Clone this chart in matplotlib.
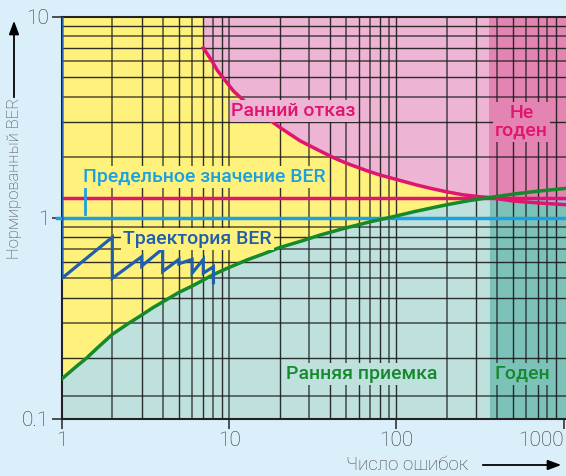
import numpy as np
import matplotlib
matplotlib.use('Agg')
import matplotlib.pyplot as plt
from matplotlib.patches import FancyArrowPatch

plt.rcParams['font.family'] = ['Roboto', 'DejaVu Sans']

# Curves (number of errors, normalised BER)
fail_x = [7, 7.9, 8.5, 10.6, 13, 16.8, 20, 26.6, 33, 42, 50, 67, 80, 106, 130, 160,
          200, 250, 320, 360, 500, 700, 1040]
fail_y = [7.0, 6.0, 5.4, 4.27, 3.65, 3.14, 2.82, 2.41, 2.2, 1.99, 1.87, 1.71, 1.63, 1.53,
          1.46, 1.40, 1.345, 1.30, 1.27, 1.26, 1.21, 1.185, 1.16]

accept_x = [1, 1.2, 1.4, 1.6, 2, 2.5, 3, 3.5, 4.2, 5, 6, 6.7, 8, 10, 13, 16, 20, 27, 35,
            50, 70, 90, 130, 200, 270, 360, 500, 700, 1040]
accept_y = [0.158, 0.18, 0.2, 0.222, 0.263, 0.298, 0.328, 0.357, 0.39, 0.425, 0.457, 0.48,
            0.52, 0.566, 0.62, 0.66, 0.71, 0.765, 0.82, 0.89, 0.955, 1.0, 1.075, 1.16,
            1.215, 1.26, 1.31, 1.355, 1.40]

traj_x = [1, 1, 2, 2, 3, 3, 4, 4, 5, 5, 6, 6, 7, 7, 8.05, 8.05]
traj_y = [10, 0.5, 0.8, 0.5, 0.64, 0.575, 0.70, 0.54, 0.62, 0.59, 0.62, 0.53, 0.62, 0.53,
          0.57, 0.475]

ber_limit = 1.26
ber_nominal = 1.0
x_cross = 360

x_grid = [2, 3, 4, 5, 6, 7, 8, 9, 10, 20, 30, 40, 50, 60, 70, 80, 90, 100,
          200, 300, 400, 500, 600, 700, 800, 900]
y_grid = [0.13, 0.2, 0.3, 0.4, 0.5, 0.6, 0.7, 0.8, 0.9, 1, 2, 3, 4, 5, 6, 7, 8, 9]

x_ticks = [1, 10, 100, 1000]
x_tick_labels = ['1', '10', '100', '1000']
y_ticks = [0.1, 1, 10]
y_tick_labels = ['0.1', '1', '10']

# colours
bg = '#dbeffb'
yellow = '#fff27c'
pink = '#edb5d3'
pink_dark = '#e384b2'
teal = '#bfe1dd'
teal_dark = '#7cc2b9'
lavender = '#97b9e1'
red = '#e0156e'
green = '#148a2c'
light_blue = '#1ba0e0'
dark_blue = '#1f5fae'

fig = plt.figure(figsize=(5.66, 4.76), dpi=100, facecolor=bg)
ax = fig.add_axes([62 / 566, 57.3 / 476, 504 / 566, 402 / 476])
ax.set_xscale('log')
ax.set_yscale('log')
ax.set_xlim(1, 1034)
ax.set_ylim(0.1, 10)
ax.set_facecolor(yellow)

fx = np.array(fail_x)
fy = np.array(fail_y)
gx = np.array(accept_x)
gy = np.array(accept_y)

# light regions
ax.fill_between(fx, fy, 10, color=pink, lw=0, zorder=1)
ax.fill_between(gx, 0.1, gy, color=teal, lw=0, zorder=1)

# dark regions right of the crossing
m = fx >= x_cross
ax.fill_between(fx[m], 0.1, fy[m], color=teal_dark, lw=0, zorder=1.1)
ax.fill_between(fx[m], fy[m], ber_limit, color=lavender, lw=0, zorder=1.1)
ax.fill_between(fx[m], ber_limit, 10, color=pink_dark, lw=0, zorder=1.1)

# grid
for i, xg in enumerate(x_grid):
    ax.axvline(xg, color='#1a1a1a', lw=1.0 if i % 2 else 1.4, alpha=0.9 if i % 2 else 0.6, zorder=2)
for i, yg in enumerate(y_grid):
    ax.axhline(yg, color='#1a1a1a', lw=1.0 if i % 2 else 1.4, alpha=0.9 if i % 2 else 0.6, zorder=2)

# lines
ax.plot([0.93, 1034], [ber_nominal, ber_nominal], color=light_blue, lw=2.5, zorder=4, clip_on=False)
ax.plot([1, 1034], [ber_limit, ber_limit], color=red, lw=2.5, zorder=4)
ax.plot(fx, fy, color=red, lw=2.5, zorder=4)
ax.plot(gx, gy, color=green, lw=2.5, zorder=4)
ax.plot(traj_x, traj_y, color=dark_blue, lw=2.3, zorder=4.5, solid_joinstyle='miter')
ax.plot([1.37, 1.37], [1.04, 1.42], color=light_blue, lw=2, zorder=4)


# labels inside
def label(x, y, s, c, fc, ha='center', **kw):
    ax.text(x, y, s, color=c, fontsize=14, fontweight='medium', ha=ha, va='center', zorder=5,
            bbox=dict(boxstyle='square,pad=0.1', fc=fc, ec='none'), **kw)


label(1.34, 1.59, 'Предельное значение BER', light_blue, yellow, ha='left')
label(24.3, 3.4, 'Ранний отказ', red, pink)
label(560, 3.0, 'Не\nгоден', red, pink_dark, linespacing=1.0)
label(2.32, 0.78, 'Траектория BER', dark_blue, yellow, ha='left')
label(62, 0.167, 'Ранняя приемка', green, teal)
label(568, 0.167, 'Годен', green, teal_dark)

# axes styling
ax.set_xticks(x_ticks)
ax.set_xticklabels(x_tick_labels)
ax.set_yticks(y_ticks)
ax.set_yticklabels(y_tick_labels)
ax.minorticks_off()
ax.tick_params(length=7, width=1.2, labelsize=15, colors='#333333', pad=2)
for t in ax.get_xticklabels():
    t.set_fontweight('light')
for t in ax.get_yticklabels():
    t.set_fontweight('light')
ax.get_xticklabels()[-1].set_ha('right')
ax.spines['right'].set_visible(False)
for s in ['top', 'bottom', 'left']:
    ax.spines[s].set_color('#222222')
    ax.spines[s].set_linewidth(1.5)

fig.text(15 / 566, 1 - 178 / 476, 'Нормированный BER', rotation=90, ha='center', va='center',
         fontsize=12, fontweight='light', color='#444444')
fig.text(407 / 566, 1 - 465 / 476, 'Число ошибок', ha='center', va='center',
         fontsize=13.5, fontweight='light', color='#444444')
fig.patches.append(FancyArrowPatch(
    (14 / 566, 1 - 100 / 476), (14 / 566, 1 - 18 / 476), transform=fig.transFigure,
    arrowstyle='-|>,head_length=8,head_width=3', color='black', lw=1.3, mutation_scale=1))
fig.patches.append(FancyArrowPatch(
    (480 / 566, 1 - 465 / 476), (564 / 566, 1 - 465 / 476), transform=fig.transFigure,
    arrowstyle='-|>,head_length=8,head_width=3', color='black', lw=1.3, mutation_scale=1))

fig.savefig('out.png', dpi=100, facecolor=bg)
